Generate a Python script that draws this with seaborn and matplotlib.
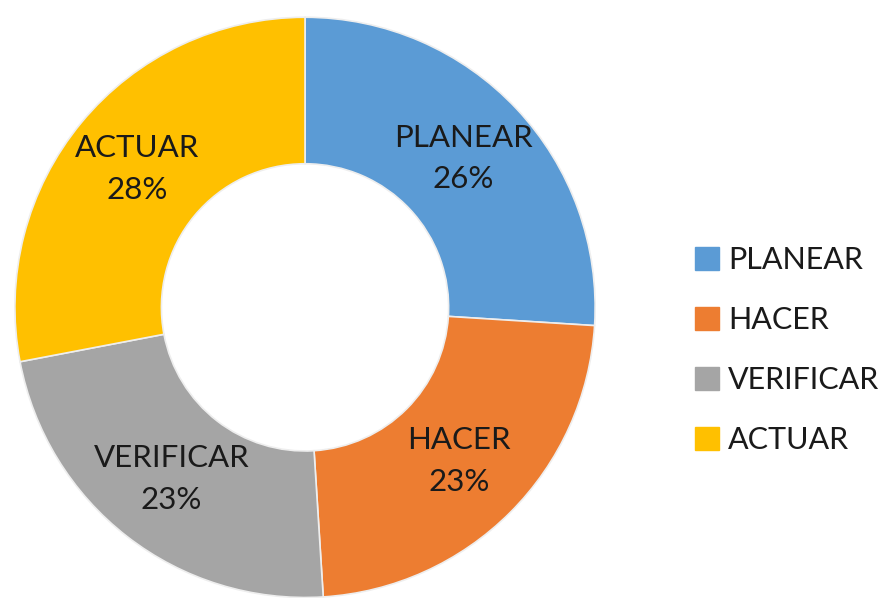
import seaborn as sns
import matplotlib.pyplot as plt
from matplotlib.patches import Patch

etapas = ['PLANEAR', 'HACER', 'VERIFICAR', 'ACTUAR']
porcentajes = [26, 23, 23, 28]
colores = ['#5B9BD5', '#ED7D31', '#A5A5A5', '#FFC000']

sns.set_theme(style="white")
plt.rcParams['font.family'] = ['Lato', 'DejaVu Sans']
palette = sns.color_palette(colores)

fig = plt.figure(figsize=(8.88, 5.98), dpi=100)
ax = fig.add_axes([0.0135, -0.004, 0.66, 0.98])

labels = [f'{e}\n{p}%' for e, p in zip(etapas, porcentajes)]
wedges, texts = ax.pie(porcentajes, colors=palette, startangle=90, counterclock=False,
                       radius=1.0, labels=labels, labeldistance=0.75,
                       wedgeprops=dict(width=0.505, edgecolor='#eeeeee', linewidth=1.2),
                       textprops=dict(fontsize=22.5, color='#1a1a1a', ha='center', va='center',
                                      linespacing=1.6))
ax.set_xlim(-1.01, 1.01)
ax.set_ylim(-1.01, 1.01)
ax.set_aspect('equal')
ax.axis('off')

handles = [Patch(facecolor=c, edgecolor=c) for c in palette]
fig.legend(handles, etapas, loc='center left', bbox_to_anchor=(0.752, 0.415),
           frameon=False, fontsize=22, labelspacing=1.05, handlelength=0.78,
           handleheight=0.78, handletextpad=0.3, labelcolor='#1a1a1a')

fig.savefig('out.png', dpi=100)
